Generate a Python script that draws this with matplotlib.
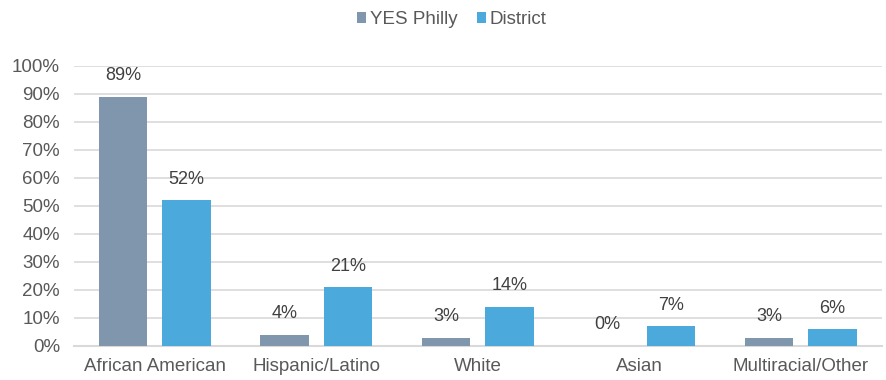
import matplotlib
matplotlib.use("Agg")
import matplotlib.pyplot as plt
import numpy as np

plt.rcParams.update({
    "font.family": ["Liberation Sans", "DejaVu Sans"],
    "font.size": 13.5,
    "text.color": "#595959",
    "xtick.color": "#595959",
    "ytick.color": "#595959",
})

categories = ["African American", "Hispanic/Latino", "White", "Asian", "Multiracial/Other"]
yes_philly = [89, 4, 3, 0, 3]
district = [52, 21, 14, 7, 6]
series_names = ["YES Philly", "District"]
colors = ["#7F96AD", "#4BAADB"]

fig = plt.figure(figsize=(8.86, 3.8), dpi=100)
ax = fig.add_axes([0.0835, 0.0895, 0.9115, 0.737])

x = np.arange(len(categories))
width = 0.30
offset = 0.197

for vals, name, color, dx in zip([yes_philly, district], series_names, colors, [-offset, offset]):
    bars = ax.bar(x + dx, vals, width, color=color, label=name, zorder=3)
    for bar, v in zip(bars, vals):
        ax.text(bar.get_x() + bar.get_width() / 2, v + 4.5, f"{v}%",
                ha="center", va="bottom", fontsize=13, color="#404040")

ax.set_xlim(-0.5, len(categories) - 0.5)
ax.set_ylim(0, 100)
ax.set_yticks(np.arange(0, 101, 10))
ax.set_yticklabels([f"{t}%" for t in range(0, 101, 10)])
ax.set_xticks(x)
ax.set_xticklabels(categories)
ax.tick_params(axis="both", length=0, labelsize=13.5)
ax.tick_params(axis="x", pad=9)
ax.tick_params(axis="y", pad=10)

ax.grid(axis="y", color="#D9D9D9", linewidth=1.2, zorder=0)
for side in ["top", "right", "left"]:
    ax.spines[side].set_visible(False)
ax.spines["bottom"].set_color("#D9D9D9")
ax.spines["bottom"].set_linewidth(1.5)

fig.legend(loc="upper center", bbox_to_anchor=(0.51, 1.015), ncol=2, frameon=False,
           fontsize=13.5, handlelength=0.5, handleheight=0.5, handletextpad=0.2,
           columnspacing=1.0)

fig.savefig("out.png", dpi=100)
